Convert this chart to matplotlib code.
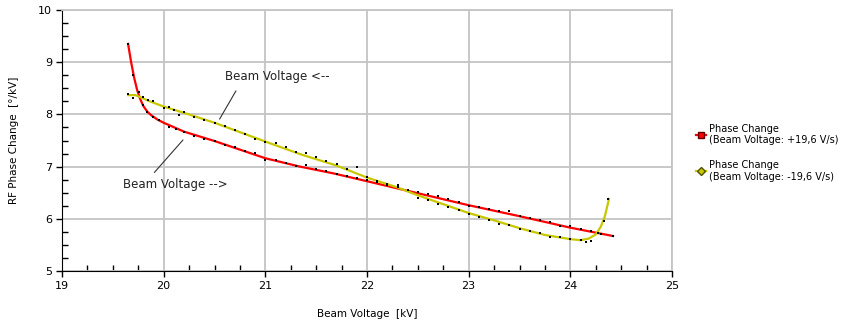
import numpy as np
import matplotlib.pyplot as plt
from matplotlib.ticker import MultipleLocator

plt.rcParams['font.family'] = ['DejaVu Sans']

# fit curve, +19.6 V/s sweep
red_x = [19.65, 19.68, 19.71, 19.74, 19.77, 19.80, 19.84, 19.88, 19.94, 20.0, 20.2, 20.5,
         21.0, 21.34, 21.67, 22.0, 22.5, 23.0, 23.5, 24.0, 24.42]
red_y = [9.35, 9.0, 8.7, 8.46, 8.29, 8.16, 8.05, 7.98, 7.90, 7.84, 7.67, 7.49,
         7.16, 7.0, 6.87, 6.72, 6.49, 6.26, 6.05, 5.83, 5.67]

# fit curve, -19.6 V/s sweep
yel_x = [19.65, 19.72, 19.76, 19.85, 20.0, 20.2, 20.5, 20.75, 21.0, 21.34, 21.7,
         22.0, 22.3, 22.5, 22.75, 23.0, 23.25, 23.5, 23.75, 24.0, 24.1, 24.18,
         24.25, 24.3, 24.34, 24.38]
yel_y = [8.37, 8.37, 8.34, 8.26, 8.15, 8.03, 7.84, 7.66, 7.48, 7.24, 7.02,
         6.79, 6.60, 6.45, 6.28, 6.11, 5.97, 5.82, 5.69, 5.61, 5.59, 5.62,
         5.70, 5.85, 6.05, 6.38]

# measured points
red_dx = [19.65, 19.70, 19.76, 19.80, 19.84, 19.90, 19.95, 20.05, 20.12, 20.2, 20.3,
          20.4, 20.5, 20.6, 20.7, 20.8, 20.9, 21.0, 21.1, 21.2, 21.3, 21.4, 21.5,
          21.6, 21.7, 21.8, 21.9, 22.0, 22.1, 22.2, 22.3, 22.4, 22.5, 22.6, 22.7,
          22.8, 22.9, 23.0, 23.1, 23.2, 23.3, 23.4, 23.5, 23.6, 23.7, 23.8, 23.9,
          24.0, 24.1, 24.2, 24.3, 24.42]
red_dy = [9.35, 8.75, 8.42, 8.18, 8.05, 7.95, 7.90, 7.75, 7.72, 7.66, 7.58,
          7.53, 7.50, 7.42, 7.38, 7.30, 7.27, 7.13, 7.12, 7.06, 7.01, 7.04, 6.96,
          6.92, 6.85, 6.82, 6.78, 6.74, 6.70, 6.66, 6.64, 6.56, 6.52, 6.47, 6.44,
          6.38, 6.33, 6.24, 6.23, 6.18, 6.15, 6.14, 6.06, 6.02, 5.98, 5.94, 5.87,
          5.86, 5.80, 5.76, 5.71, 5.67]
yel_dx = [19.65, 19.70, 19.80, 19.85, 19.90, 20.0, 20.05, 20.1, 20.15, 20.2, 20.3,
          20.4, 20.5, 20.6, 20.7, 20.8, 20.9, 21.0, 21.1, 21.2, 21.3, 21.4, 21.5,
          21.6, 21.7, 21.8, 21.9, 22.0, 22.1, 22.2, 22.3, 22.4, 22.5, 22.6, 22.7,
          22.8, 22.9, 23.0, 23.1, 23.2, 23.3, 23.4, 23.5, 23.6, 23.7, 23.8, 23.9,
          24.0, 24.1, 24.15, 24.2, 24.27, 24.33, 24.37]
yel_dy = [8.40, 8.32, 8.33, 8.28, 8.25, 8.12, 8.15, 8.08, 7.98, 8.04, 7.95,
          7.90, 7.83, 7.78, 7.70, 7.63, 7.52, 7.48, 7.45, 7.38, 7.28, 7.26, 7.18,
          7.10, 7.05, 6.95, 7.00, 6.80, 6.72, 6.65, 6.60, 6.55, 6.40, 6.36, 6.28,
          6.22, 6.17, 6.10, 6.03, 5.98, 5.90, 5.88, 5.80, 5.77, 5.72, 5.65, 5.66,
          5.62, 5.60, 5.55, 5.58, 5.72, 5.95, 6.38]

red_label = 'Phase Change\n(Beam Voltage: +19,6 V/s)'
yel_label = 'Phase Change\n(Beam Voltage: -19,6 V/s)'

fig = plt.figure(figsize=(8.44, 3.22), dpi=100)
ax = fig.add_axes([62/844, 1 - 271/322, 610/844, 261/322])

grid_c = '#c4c4c4'
ax.plot(red_x, red_y, color='#ff0000', lw=1.6, zorder=3)
ax.plot(yel_x, yel_y, color='#c8c800', lw=1.6, zorder=3)
ax.scatter(red_dx, red_dy, s=3, color='black', marker='s', lw=0, zorder=4)
ax.scatter(yel_dx, yel_dy, s=3, color='black', marker='s', lw=0, zorder=4)

# legend handles only
ax.plot([], [], color='#ff0000', lw=1.6, marker='s', ms=5, mec='#600000', mfc='#ff0000', label=red_label)
ax.plot([], [], color='#c8c800', lw=1.6, marker='D', ms=4, mec='#505000', mfc='#c8c800', label=yel_label)

ax.set_xlim(19, 25)
ax.set_ylim(5, 10)
ax.xaxis.set_major_locator(MultipleLocator(1))
ax.xaxis.set_minor_locator(MultipleLocator(0.25))
ax.yaxis.set_major_locator(MultipleLocator(1))
ax.yaxis.set_minor_locator(MultipleLocator(0.25))
ax.grid(which='major', color=grid_c, lw=1.3)
ax.set_axisbelow(True)
ax.tick_params(which='major', direction='out', length=4, width=1, labelsize=8, colors='black', pad=3)
ax.tick_params(which='minor', direction='in', length=4, width=1)
for s in ['top', 'right']:
    ax.spines[s].set_color(grid_c)
    ax.spines[s].set_linewidth(1.3)
for s in ['left', 'bottom']:
    ax.spines[s].set_color('black')

ax.set_xlabel('Beam Voltage  [kV]', fontsize=7.5, labelpad=13)
ax.set_ylabel('RF Phase Change  [°/kV]', fontsize=7.5, labelpad=14)

ax.annotate('Beam Voltage <--', xy=(20.55, 7.91), xytext=(20.6, 8.72),
            fontsize=8.5, va='center', ha='left', color='#222222',
            arrowprops=dict(arrowstyle='-', color='#333333', lw=0.8, shrinkA=4, shrinkB=0,
                            relpos=(0.15, 0.0)))
ax.annotate('Beam Voltage -->', xy=(20.19, 7.51), xytext=(19.6, 6.65),
            fontsize=8.5, va='center', ha='left', color='#222222',
            arrowprops=dict(arrowstyle='-', color='#333333', lw=0.8, shrinkA=3, shrinkB=0,
                            relpos=(0.25, 1.0)))

ax.legend(loc='upper left', bbox_to_anchor=(692/844, 1 - 120/322), bbox_transform=fig.transFigure,
          frameon=False, fontsize=7, handlelength=1.0, handletextpad=0.35, labelspacing=1.5,
          borderaxespad=0)

fig.savefig('out.png', dpi=100)
